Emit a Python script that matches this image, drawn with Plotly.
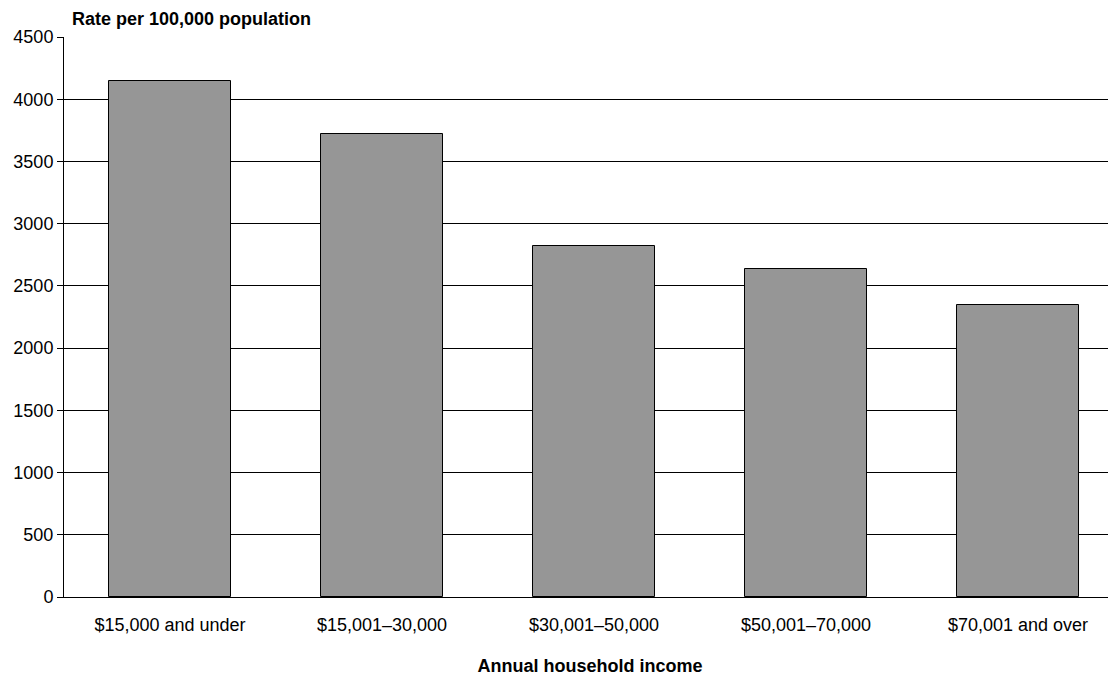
import plotly.graph_objects as go

categories = ["$15,000 and under", "$15,001–30,000", "$30,001–50,000", "$50,001–70,000", "$70,001 and over"]
rates = [4150, 3720, 2820, 2635, 2345]
y_ticks = [0, 500, 1000, 1500, 2000, 2500, 3000, 3500, 4000, 4500]

FONT = "Liberation Sans, Arial, sans-serif"

fig = go.Figure(
    go.Bar(
        x=categories,
        y=rates,
        width=0.575,
        marker=dict(color="#969696", line=dict(color="#000000", width=1)),
        hoverinfo="x+y",
    )
)

# The page body has an 8px margin, so the figure is sized/offset to compensate.
fig.update_layout(
    width=1108,
    height=669,
    margin=dict(l=56, r=0, t=29, b=80),
    paper_bgcolor="white",
    plot_bgcolor="white",
    showlegend=False,
    font=dict(family=FONT, size=18, color="#000000"),
    bargap=0,
)

fig.update_xaxes(
    type="category",
    range=[-0.5, 4.462],
    showgrid=False,
    showline=True,
    linecolor="#000000",
    linewidth=1,
    ticks="",
    ticklabelstandoff=11,
    tickfont=dict(size=18),
    title=dict(text="<b>Annual household income</b>", font=dict(size=18), standoff=25),
)

fig.update_yaxes(
    range=[0, 4500],
    tickvals=y_ticks,
    ticktext=[str(v) for v in y_ticks],
    showgrid=True,
    gridcolor="#000000",
    gridwidth=1,
    showline=True,
    linecolor="#000000",
    linewidth=1,
    ticks="outside",
    ticklen=6,
    tickcolor="#000000",
    tickfont=dict(size=18),
    zeroline=False,
)

fig.add_annotation(
    text="<b>Rate per 100,000 population</b>",
    xref="paper", yref="paper",
    x=6 / 1052, y=1,
    xanchor="left", yanchor="bottom",
    yshift=6,
    showarrow=False,
    font=dict(size=18),
)

fig.write_html("out.html")
